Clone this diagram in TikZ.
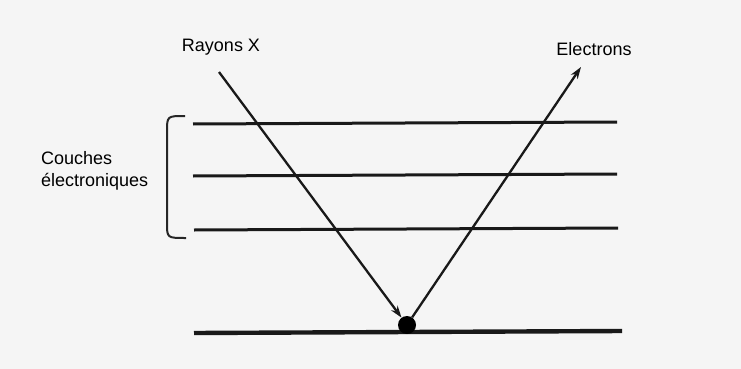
\documentclass[tikz,border=0pt]{standalone}
\usepackage{fontspec}
\setmainfont{Liberation Sans}
\usetikzlibrary{arrows.meta}
\begin{document}
\begin{tikzpicture}[x=1pt,y=-1pt,
  shell/.style={line width=3pt,black!90},
  base/.style={line width=4.4pt,black!90},
  ray/.style={line width=2.3pt,black!90,-{Stealth[length=12pt,width=8pt]}},
  lbl/.style={font=\fontsize{18}{22}\selectfont,inner sep=0pt,text=black},
  brace/.style={line width=2pt,black!85}]
\fill[black!4] (0,0) rectangle (741,369);
\useasboundingbox (0,0) rectangle (741,369);
% shells
\coordinate (s1l) at (193,124); \coordinate (s1r) at (617,122);
\coordinate (s2l) at (193,176); \coordinate (s2r) at (617,174);
\coordinate (s3l) at (194,230); \coordinate (s3r) at (618,228);
\coordinate (bl) at (194,333); \coordinate (br) at (622,331);
\draw[shell] (s1l) -- (s1r);
\draw[shell] (s2l) -- (s2r);
\draw[shell] (s3l) -- (s3r);
\draw[base] (bl) -- (br);
% atom
\node[circle,fill=black,minimum size=18pt,inner sep=0pt] (dot) at (407,325) {};
% labels
\node[lbl] (rx) at (221,47) {Rayons X};
\node[lbl] (el) at (594,49) {Electrons};
\node[lbl,align=left,anchor=west] (ce) at (41,171) {Couches\\électroniques};
% rays
\coordinate (xin) at (219,72);
\coordinate (eout) at (581,67);
\draw[ray] (xin) -- (dot);
\draw[ray] (dot) -- (eout);
% bracket
\coordinate (bt) at (185,116);
\coordinate (bb) at (186,238);
\draw[brace] (bt) .. controls (167,116) .. (167,132) -- (167,223) .. controls (167,238) .. (bb);
\end{tikzpicture}
\end{document}
